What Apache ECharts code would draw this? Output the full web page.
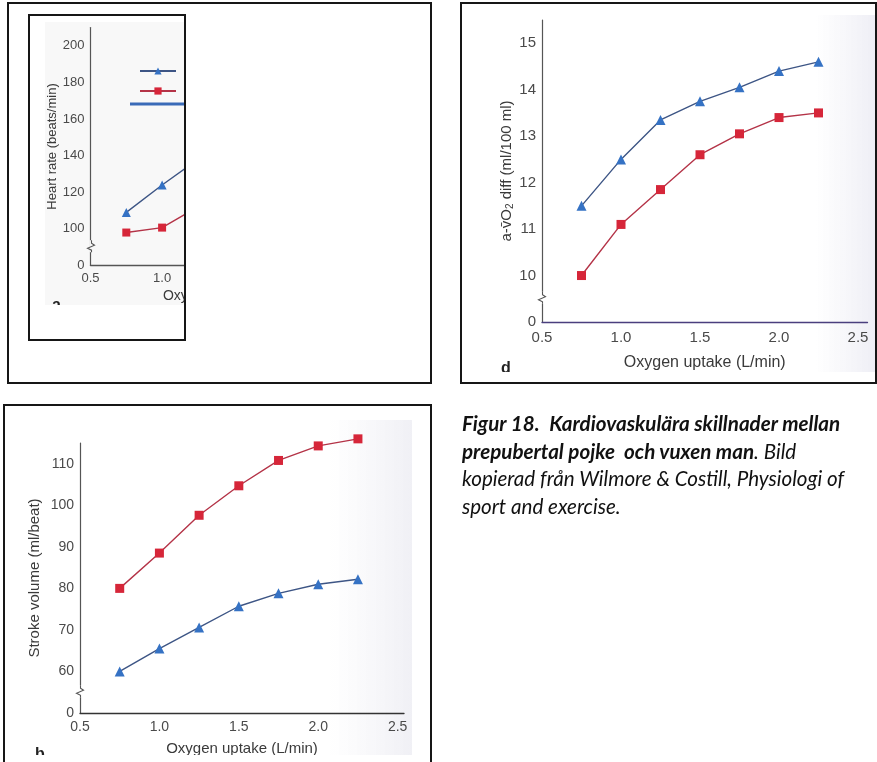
<!DOCTYPE html>
<html>
<head>
<meta charset="utf-8">
<script src="https://cdn.jsdelivr.net/npm/echarts@6/dist/echarts.min.js"></script>
<style>
  html, body { margin: 0; padding: 0; background: #fff; }
  #chart { position: absolute; left: 0; top: 0; width: 877px; height: 762px; }
  #caption {
    position: absolute; left: 462px; top: 410px;
    font-family: Lato, "Open Sans", sans-serif; font-size: 20.6px; font-style: italic;
    line-height: 27.5px; color: #111; white-space: nowrap;
  }
</style>
</head>
<body>
<div id="chart"></div>
<div id="caption"><b>Figur 18.</b>&nbsp; <b>Kardiovaskulära skillnader mellan</b><br><b>prepubertal pojke&nbsp; och vuxen man</b>. Bild<br>kopierad från Wilmore &amp; Costill, Physiologi of<br>sport and exercise.</div>
<script>
// oxygen uptake (L/min) where the measurements were taken
const oxygenUptake = [0.75, 1.0, 1.25, 1.5, 1.75, 2.0, 2.25];

// panel a - heart rate (beats/min), only the left part is visible
const heartRateBoy = [109, 124, 138];
const heartRateMan = [98, 100.7, 112];

// panel b - stroke volume (ml/beat)
const strokeBoy = [60, 65.5, 70.6, 75.7, 78.8, 81, 82.2];
const strokeMan = [80, 88.5, 97.6, 104.7, 110.8, 114.3, 116];

// panel d - a-vO2 diff (ml/100 ml)
const avo2Boy = [11.5, 12.5, 13.35, 13.75, 14.05, 14.4, 14.6];
const avo2Man = [10.0, 11.1, 11.85, 12.6, 13.05, 13.4, 13.5];

// broken axes: lowest value of each y axis is printed as "0"
const yMins = [80, 50, 9];

const FONT = '"Liberation Sans", Arial, sans-serif';
const BLUE = '#3572c4', BLUE_LINE = '#3d5585';
const RED = '#d62639', RED_LINE = '#b43347';
const LABEL = '#4a4a4a';

const chart = echarts.init(document.getElementById('chart'));

function pts(vals) {
  return vals.map((v, i) => [oxygenUptake[i], v]);
}

function xAxisOf(idx, max, size, margin, gap, lineColor) {
  return {
    type: 'value', gridIndex: idx, min: 0.5, max: max, interval: 0.5,
    splitLine: { show: false }, axisTick: { show: false },
    axisLine: { show: true, lineStyle: { color: lineColor, width: 1.3 } },
    axisLabel: { color: LABEL, fontFamily: FONT, fontSize: size, margin: margin,
      showMaxLabel: false, formatter: v => v.toFixed(1) },
    name: 'Oxygen uptake (L/min)', nameLocation: 'middle', nameGap: gap,
    nameTextStyle: { color: '#3a3a3a', fontFamily: FONT, fontSize: size + 1 }
  };
}

function yAxisOf(idx, max, interval, size, name, gap, rich) {
  const min = yMins[idx];
  return {
    type: 'value', gridIndex: idx, min: min, max: max, interval: interval,
    splitLine: { show: false }, axisTick: { show: false },
    axisLine: { show: true, onZero: false, lineStyle: { color: '#555', width: 1.2 } },
    axisLabel: { color: LABEL, fontFamily: FONT, fontSize: size, margin: 6,
      showMaxLabel: false, formatter: v => (v === min ? '0' : String(v)) },
    name: name, nameLocation: 'middle', nameGap: gap,
    nameTextStyle: Object.assign({ color: '#3a3a3a', fontFamily: FONT, fontSize: size }, rich || {})
  };
}

function lineSeries(idx, name, vals, boy, size) {
  return {
    type: 'line', name: name, xAxisIndex: idx, yAxisIndex: idx,
    data: pts(vals), clip: false,
    symbol: boy ? 'triangle' : 'rect', symbolSize: boy ? size + 1 : size,
    lineStyle: { color: boy ? BLUE_LINE : RED_LINE, width: 1.4 },
    itemStyle: { color: boy ? BLUE : RED },
    emphasis: { disabled: true }, animation: false
  };
}

const option = {
  animation: false,
  legend: {
    data: ['Pojke', 'Man'], orient: 'vertical', left: 139, top: 65, padding: 0,
    itemWidth: 36, itemHeight: 9, itemGap: 8,
    textStyle: { fontFamily: FONT, fontSize: 12, color: '#333', padding: [0, 0, 0, 4] }
  },
  grid: [
    { left: 90.5, top: 27.5, width: 286.4, height: 238 },
    { left: 80, top: 443, width: 324, height: 270 },
    { left: 542, top: 20, width: 325.5, height: 302 }
  ],
  xAxis: [
    xAxisOf(0, 2.5, 13, 6, 24, '#555'),
    xAxisOf(1, 2.54, 14, 7, 28, '#333'),
    xAxisOf(2, 2.56, 15, 8, 33, '#4a3f7e')
  ],
  yAxis: [
    yAxisOf(0, 210, 20, 13, 'Heart rate (beats/min)', 29),
    yAxisOf(1, 115, 10, 14, 'Stroke volume (ml/beat)', 38, { fontSize: 15 }),
    yAxisOf(2, 15.5, 1, 15, '{t|a-v\u0304O}{s|2}{t| diff (ml/100 ml)}', 25, {
      rich: {
        t: { fontFamily: FONT, fontSize: 15, color: '#3a3a3a', lineHeight: 18 },
        s: { fontFamily: FONT, fontSize: 10, color: '#3a3a3a', lineHeight: 10, verticalAlign: 'bottom' }
      }
    })
  ],
  series: [
    lineSeries(0, 'Pojke', heartRateBoy, true, 8),
    lineSeries(0, 'Man', heartRateMan, false, 8),
    lineSeries(1, 'Man', strokeMan, false, 9),
    lineSeries(1, 'Pojke', strokeBoy, true, 9),
    lineSeries(2, 'Pojke', avo2Boy, true, 9),
    lineSeries(2, 'Man', avo2Man, false, 9)
  ]
};

chart.setOption(option);

// decorations: frames, crop of panel a, axis breaks, panel letters
const graphic = [];

// faint scan shading
graphic.push({ type: 'rect', z: -10, shape: { x: 45, y: 22, width: 140, height: 283 },
  style: { fill: '#f8f8f8' } });
graphic.push({ type: 'rect', z: -10, shape: { x: 815, y: 15, width: 61, height: 357 },
  style: { fill: new echarts.graphic.LinearGradient(0, 0, 1, 0, [
    { offset: 0, color: 'rgba(240,240,246,0)' }, { offset: 1, color: 'rgba(238,238,245,1)' }]) } });
graphic.push({ type: 'rect', z: -10, shape: { x: 330, y: 420, width: 82, height: 335 },
  style: { fill: new echarts.graphic.LinearGradient(0, 0, 1, 0, [
    { offset: 0, color: 'rgba(242,242,246,0)' }, { offset: 1, color: 'rgba(240,240,245,1)' }]) } });

// axis break zigzags
yMins.forEach((m, g) => {
  const step = option.yAxis[g].interval;
  const p = chart.convertToPixel({ gridIndex: g }, [0.5, m + step / 2]);
  const x0 = Math.round(p[0]) + 0.5, y0 = p[1];
  graphic.push({ type: 'rect', z: 20, shape: { x: x0 - 2, y: y0 - 7, width: 4, height: 12 },
    style: { fill: g === 0 ? '#f8f8f8' : '#fff' } });
  graphic.push({ type: 'polyline', z: 21,
    shape: { points: [[x0, y0 - 7], [x0, y0 - 4], [x0 + 3, y0 - 2], [x0 - 4, y0 + 1], [x0, y0 + 3], [x0, y0 + 5]] },
    style: { stroke: '#555', lineWidth: 1.1, fill: null } });
});

// third legend key of panel a
graphic.push({ type: 'line', z: 30, shape: { x1: 130, y1: 104, x2: 186, y2: 104 },
  style: { stroke: '#3a6bb8', lineWidth: 3 } });

// panel letters (cut off by the scan edge)
graphic.push({ type: 'text', z: 30, style: { text: 'a', x: 52, y: 298, font: 'bold 16px ' + FONT, fill: '#222' } });
graphic.push({ type: 'rect', z: 31, shape: { x: 45, y: 305, width: 139, height: 34 }, style: { fill: '#fff' } });
graphic.push({ type: 'text', z: 30, style: { text: 'd', x: 501, y: 361, font: 'bold 16px ' + FONT, fill: '#222' } });
graphic.push({ type: 'rect', z: 31, shape: { x: 495, y: 372, width: 30, height: 10 }, style: { fill: '#fff' } });
graphic.push({ type: 'text', z: 30, style: { text: 'b', x: 35, y: 747, font: 'bold 16px ' + FONT, fill: '#222' } });
graphic.push({ type: 'rect', z: 31, shape: { x: 6, y: 755, width: 424, height: 8 }, style: { fill: '#fff' } });

// white mask cropping panel a at the inner frame
graphic.push({ type: 'rect', z: 90, shape: { x: 186, y: 5, width: 244, height: 377 }, style: { fill: '#fff' } });

// frames
const frames = [[8, 3, 423, 380], [29, 15, 156, 325], [461, 3, 415, 380], [4, 405, 427, 370]];
frames.forEach(f => {
  graphic.push({ type: 'rect', z: 100, shape: { x: f[0], y: f[1], width: f[2], height: f[3] },
    style: { fill: null, stroke: '#161616', lineWidth: 2 } });
});

chart.setOption({ graphic: graphic });
</script>
</body>
</html>
